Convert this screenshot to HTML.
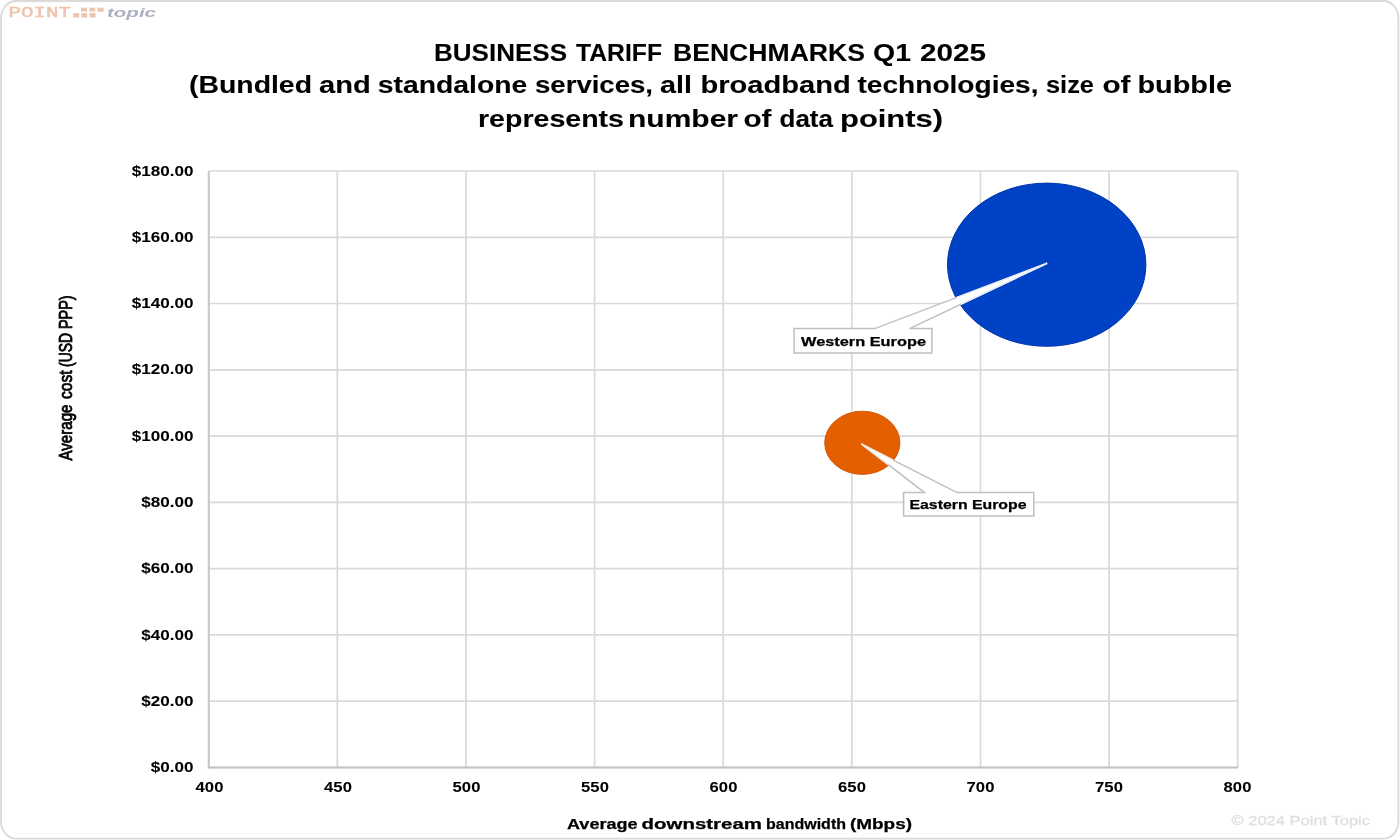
<!DOCTYPE html>
<html><head><meta charset="utf-8"><title>Business Tariff Benchmarks Q1 2025</title>
<style>
html,body{margin:0;padding:0;background:#fff;width:1400px;height:840px;overflow:hidden}
svg{display:block;will-change:transform}
text{font-family:"Liberation Sans", sans-serif}
</style></head><body>
<svg width="1400" height="840" viewBox="0 0 1400 840">
<rect x="1" y="1" width="1397.4" height="837.6" rx="15" ry="17" fill="#fff" stroke="#dadada" stroke-width="1.8"/>
<g stroke="#d9d9d9" stroke-width="1.7"><line x1="208.7" y1="171.0" x2="208.7" y2="767.5"/><line x1="337.3" y1="171.0" x2="337.3" y2="767.5"/><line x1="466.0" y1="171.0" x2="466.0" y2="767.5"/><line x1="594.6" y1="171.0" x2="594.6" y2="767.5"/><line x1="723.2" y1="171.0" x2="723.2" y2="767.5"/><line x1="851.8" y1="171.0" x2="851.8" y2="767.5"/><line x1="980.5" y1="171.0" x2="980.5" y2="767.5"/><line x1="1109.1" y1="171.0" x2="1109.1" y2="767.5"/><line x1="1237.7" y1="171.0" x2="1237.7" y2="767.5"/><line x1="208.7" y1="767.5" x2="1237.7" y2="767.5"/><line x1="208.7" y1="701.2" x2="1237.7" y2="701.2"/><line x1="208.7" y1="634.9" x2="1237.7" y2="634.9"/><line x1="208.7" y1="568.7" x2="1237.7" y2="568.7"/><line x1="208.7" y1="502.4" x2="1237.7" y2="502.4"/><line x1="208.7" y1="436.1" x2="1237.7" y2="436.1"/><line x1="208.7" y1="369.8" x2="1237.7" y2="369.8"/><line x1="208.7" y1="303.5" x2="1237.7" y2="303.5"/><line x1="208.7" y1="237.3" x2="1237.7" y2="237.3"/><line x1="208.7" y1="171.0" x2="1237.7" y2="171.0"/></g>
<line x1="208.8" y1="171.0" x2="208.8" y2="768.5" stroke="#c9c9c9" stroke-width="2"/><line x1="207.8" y1="767.4" x2="1237.7" y2="767.4" stroke="#c2c2c2" stroke-width="2"/>
<g font-size="14" font-weight="bold" fill="#000" stroke="#000" stroke-width="0.05"><text transform="translate(193.4,772.10) scale(1.22,1)" text-anchor="end">$0.00</text><text transform="translate(193.4,705.82) scale(1.22,1)" text-anchor="end">$20.00</text><text transform="translate(193.4,639.54) scale(1.22,1)" text-anchor="end">$40.00</text><text transform="translate(193.4,573.26) scale(1.22,1)" text-anchor="end">$60.00</text><text transform="translate(193.4,506.98) scale(1.22,1)" text-anchor="end">$80.00</text><text transform="translate(193.4,440.70) scale(1.22,1)" text-anchor="end">$100.00</text><text transform="translate(193.4,374.42) scale(1.22,1)" text-anchor="end">$120.00</text><text transform="translate(193.4,308.14) scale(1.22,1)" text-anchor="end">$140.00</text><text transform="translate(193.4,241.86) scale(1.22,1)" text-anchor="end">$160.00</text><text transform="translate(193.4,175.58) scale(1.22,1)" text-anchor="end">$180.00</text></g>
<g font-size="14" font-weight="bold" fill="#000" stroke="#000" stroke-width="0.05"><text transform="translate(209.50,791.8) scale(1.19,1)" text-anchor="middle">400</text><text transform="translate(338.00,791.8) scale(1.19,1)" text-anchor="middle">450</text><text transform="translate(466.50,791.8) scale(1.19,1)" text-anchor="middle">500</text><text transform="translate(595.00,791.8) scale(1.19,1)" text-anchor="middle">550</text><text transform="translate(723.50,791.8) scale(1.19,1)" text-anchor="middle">600</text><text transform="translate(852.00,791.8) scale(1.19,1)" text-anchor="middle">650</text><text transform="translate(980.50,791.8) scale(1.19,1)" text-anchor="middle">700</text><text transform="translate(1109.00,791.8) scale(1.19,1)" text-anchor="middle">750</text><text transform="translate(1237.50,791.8) scale(1.19,1)" text-anchor="middle">800</text></g>
<g font-weight="bold" fill="#000" stroke="#000" stroke-width="0.1"><text x="434.00" y="60.7" font-size="23.5" textLength="133.00" lengthAdjust="spacingAndGlyphs">BUSINESS</text><text x="576.00" y="60.7" font-size="23.5" textLength="86.00" lengthAdjust="spacingAndGlyphs">TARIFF</text><text x="673.00" y="60.7" font-size="23.5" textLength="192.00" lengthAdjust="spacingAndGlyphs">BENCHMARKS</text><text x="873.00" y="60.7" font-size="23.5" textLength="38.00" lengthAdjust="spacingAndGlyphs">Q1</text><text x="920.00" y="60.7" font-size="23.5" textLength="66.00" lengthAdjust="spacingAndGlyphs">2025</text><text x="189.00" y="93" font-size="23.5" textLength="123.00" lengthAdjust="spacingAndGlyphs">(Bundled</text><text x="319.00" y="93" font-size="23.5" textLength="51.75" lengthAdjust="spacingAndGlyphs">and</text><text x="377.75" y="93" font-size="23.5" textLength="149.50" lengthAdjust="spacingAndGlyphs">standalone</text><text x="535.00" y="93" font-size="23.5" textLength="118.00" lengthAdjust="spacingAndGlyphs">services,</text><text x="660.00" y="93" font-size="23.5" textLength="32.00" lengthAdjust="spacingAndGlyphs">all</text><text x="700.50" y="93" font-size="23.5" textLength="150.25" lengthAdjust="spacingAndGlyphs">broadband</text><text x="857.50" y="93" font-size="23.5" textLength="181.00" lengthAdjust="spacingAndGlyphs">technologies,</text><text x="1046.00" y="93" font-size="23.5" textLength="48.00" lengthAdjust="spacingAndGlyphs">size</text><text x="1102.50" y="93" font-size="23.5" textLength="28.00" lengthAdjust="spacingAndGlyphs">of</text><text x="1137.50" y="93" font-size="23.5" textLength="94.50" lengthAdjust="spacingAndGlyphs">bubble</text><text x="478.00" y="126.7" font-size="23.5" textLength="146.00" lengthAdjust="spacingAndGlyphs">represents</text><text x="628.00" y="126.7" font-size="23.5" textLength="110.00" lengthAdjust="spacingAndGlyphs">number</text><text x="743.50" y="126.7" font-size="23.5" textLength="28.00" lengthAdjust="spacingAndGlyphs">of</text><text x="779.50" y="126.7" font-size="23.5" textLength="53.50" lengthAdjust="spacingAndGlyphs">data</text><text x="840.00" y="126.7" font-size="23.5" textLength="103.00" lengthAdjust="spacingAndGlyphs">points)</text></g>
<g font-size="15" font-weight="bold" stroke="#000" stroke-width="0.25"><text x="567.00" y="828.9" textLength="70.50" lengthAdjust="spacingAndGlyphs">Average</text><text x="641.50" y="828.9" textLength="120.50" lengthAdjust="spacingAndGlyphs">downstream</text><text x="766.00" y="828.9" textLength="80.00" lengthAdjust="spacingAndGlyphs">bandwidth</text><text x="850.00" y="828.9" textLength="62.00" lengthAdjust="spacingAndGlyphs">(Mbps)</text></g>
<g transform="translate(71.6,0) rotate(-90)" font-size="17.5" stroke="#000" stroke-width="0.8"><text x="-460.50" y="0" textLength="56.00" lengthAdjust="spacingAndGlyphs">Average</text><text x="-399.00" y="0" textLength="28.50" lengthAdjust="spacingAndGlyphs">cost</text><text x="-367.00" y="0" textLength="34.00" lengthAdjust="spacingAndGlyphs">(USD</text><text x="-329.00" y="0" textLength="33.50" lengthAdjust="spacingAndGlyphs">PPP)</text></g>
<ellipse cx="1046.7" cy="264.7" rx="99.2" ry="81.6" fill="#0042C6" stroke="#0034A8" stroke-width="1"/>
<ellipse cx="862.3" cy="442.8" rx="37.6" ry="31.6" fill="#E35F00" stroke="#D05200" stroke-width="0.9"/>
<defs><clipPath id="cb1"><ellipse cx="1046.7" cy="264.7" rx="98.7" ry="81.1"/></clipPath><clipPath id="cb2"><ellipse cx="862.3" cy="442.8" rx="37.1" ry="31.1"/></clipPath></defs>
<path d="M794.1,328.6 L874.7,328.6 L1047.2,263.2 L909.6,328.6 L931.9,328.6 L931.9,353.1 L794.1,353.1 Z" fill="#fff" stroke="#bfbfbf" stroke-width="1.5"/>
<path d="M903.6,492.6 L924.5,492.6 L861.3,443.9 L957.1,492.6 L1033.8,492.6 L1033.8,515.9 L903.6,515.9 Z" fill="#fff" stroke="#bfbfbf" stroke-width="1.5"/>
<path d="M794.1,328.6 L874.7,328.6 L1047.2,263.2 L909.6,328.6 L931.9,328.6 L931.9,353.1 L794.1,353.1 Z" fill="#fff" stroke="#e8ecf8" stroke-width="1.5" clip-path="url(#cb1)"/>
<path d="M903.6,492.6 L924.5,492.6 L861.3,443.9 L957.1,492.6 L1033.8,492.6 L1033.8,515.9 L903.6,515.9 Z" fill="#fff" stroke="#f4e8e0" stroke-width="1.5" clip-path="url(#cb2)"/>
<g font-size="13" font-weight="bold" fill="#000" stroke="#000" stroke-width="0.25"><text x="801.00" y="346.1" textLength="125.00" lengthAdjust="spacingAndGlyphs">Western Europe</text><text x="909.50" y="509.1" textLength="117.00" lengthAdjust="spacingAndGlyphs">Eastern Europe</text></g>
<text x="8.6" y="17.2" font-family="Liberation Mono, monospace" style="font-family:'Liberation Mono', monospace" font-size="14" font-weight="normal" fill="#EDC4AE" stroke="#EDC4AE" stroke-width="0.45" textLength="62.5" lengthAdjust="spacingAndGlyphs">POINT</text>
<g fill="#EDC4AE"><rect x="73.2" y="13.1" width="6" height="4.4"/><rect x="81.4" y="13.1" width="5.8" height="4.4"/><rect x="89.6" y="13.1" width="6" height="4.4"/><rect x="81.0" y="7.7" width="6" height="3.9"/><rect x="89.5" y="7.7" width="5.7" height="3.9"/><rect x="97.6" y="7.7" width="6" height="3.9"/></g>
<text x="107" y="17.3" font-size="13.5" font-weight="bold" font-style="italic" fill="#ADB0C4" textLength="49" lengthAdjust="spacingAndGlyphs">topic</text>
<text x="1231.5" y="825.1" font-size="13.5" fill="#dedede" stroke="#e2e2e2" stroke-width="0.4" textLength="138.5" lengthAdjust="spacingAndGlyphs">© 2024 Point Topic</text>
</svg>
</body></html>
